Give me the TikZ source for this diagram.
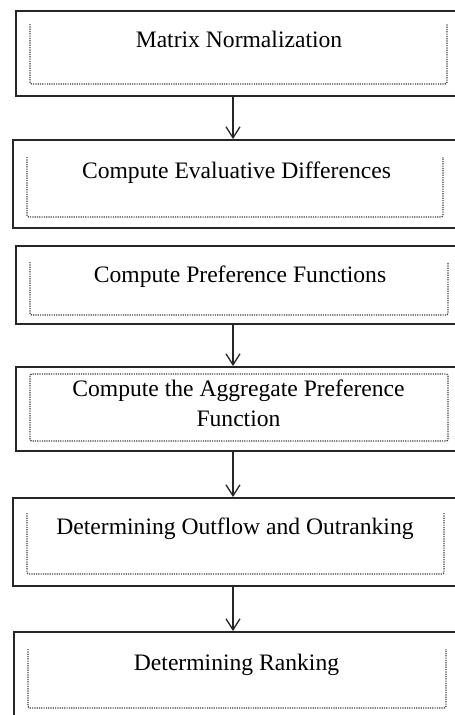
\documentclass[tikz,border=0pt]{standalone}
\usepackage{fontspec}
\setmainfont{Liberation Serif}
\usetikzlibrary{arrows.meta}
\tikzset{
  outerbox/.style={draw=black!85, line width=1.8pt, fill=none, inner sep=0pt, anchor=north west},
  dotbox/.style={draw=black!75, line width=1.4pt, dash pattern=on 1.2pt off 1.1pt, rounded corners=2pt},
  lbl/.style={font=\fontsize{23.6}{30}\selectfont, text=black, inner sep=0pt, anchor=base},
  arr/.style={draw=black!85, line width=1.4pt, -{Straight Barb[length=11pt,width=14pt,line width=1.3pt]}}
}
\begin{document}
\begin{tikzpicture}[x=1pt,y=-1pt]
\clip (0,0) rectangle (455,715);
\fill[white] (0,0) rectangle (455,715);
% outer boxes
\node[outerbox, minimum width=460pt, minimum height=85pt] (b1) at (15,10) {};
\node[outerbox, minimum width=460pt, minimum height=88pt] (b2) at (12,139) {};
\node[outerbox, minimum width=460pt, minimum height=78pt] (b3) at (15,245) {};
\node[outerbox, minimum width=460pt, minimum height=84pt] (b4) at (15,366) {};
\node[outerbox, minimum width=460pt, minimum height=88pt] (b5) at (12,497) {};
\node[outerbox, minimum width=460pt, minimum height=100pt] (b6) at (13,631) {};
% inner dotted frames
\draw[dotbox] (30,24) -- (30,84) -- (447,84) -- (447,24);
\draw[dotbox] (27,157) -- (27,217) -- (443,217) -- (443,157);
\draw[dotbox] (30,262) -- (30,315) -- (448,315) -- (448,262);
\draw[dotbox] (30,374) rectangle (448,441);
\draw[dotbox] (27,513) -- (27,574) -- (444,574) -- (444,513);
\draw[dotbox] (28,649) -- (28,708) -- (446,708) -- (446,649);
% labels
\node[lbl] (t1) at (239,47) {Matrix Normalization};
\node[lbl] (t2) at (236.5,178) {Compute Evaluative Differences};
\node[lbl] (t3) at (240,282) {Compute Preference Functions};
\node[lbl, anchor=center, align=center] (t4) at (238.5,403.7) {Compute the Aggregate Preference\\Function};
\node[lbl] (t5) at (235,534) {Determining Outflow and Outranking};
\node[lbl] (t6) at (236.5,670) {Determining Ranking};
% connectors
\coordinate (ax) at (233,0);
\draw[arr] (b1.south -| ax) -- (b2.north -| ax);
\draw[arr] (b3.south -| ax) -- (b4.north -| ax);
\draw[arr] (b4.south -| ax) -- (b5.north -| ax);
\draw[arr] (b5.south -| ax) -- (b6.north -| ax);
\end{tikzpicture}
\end{document}
